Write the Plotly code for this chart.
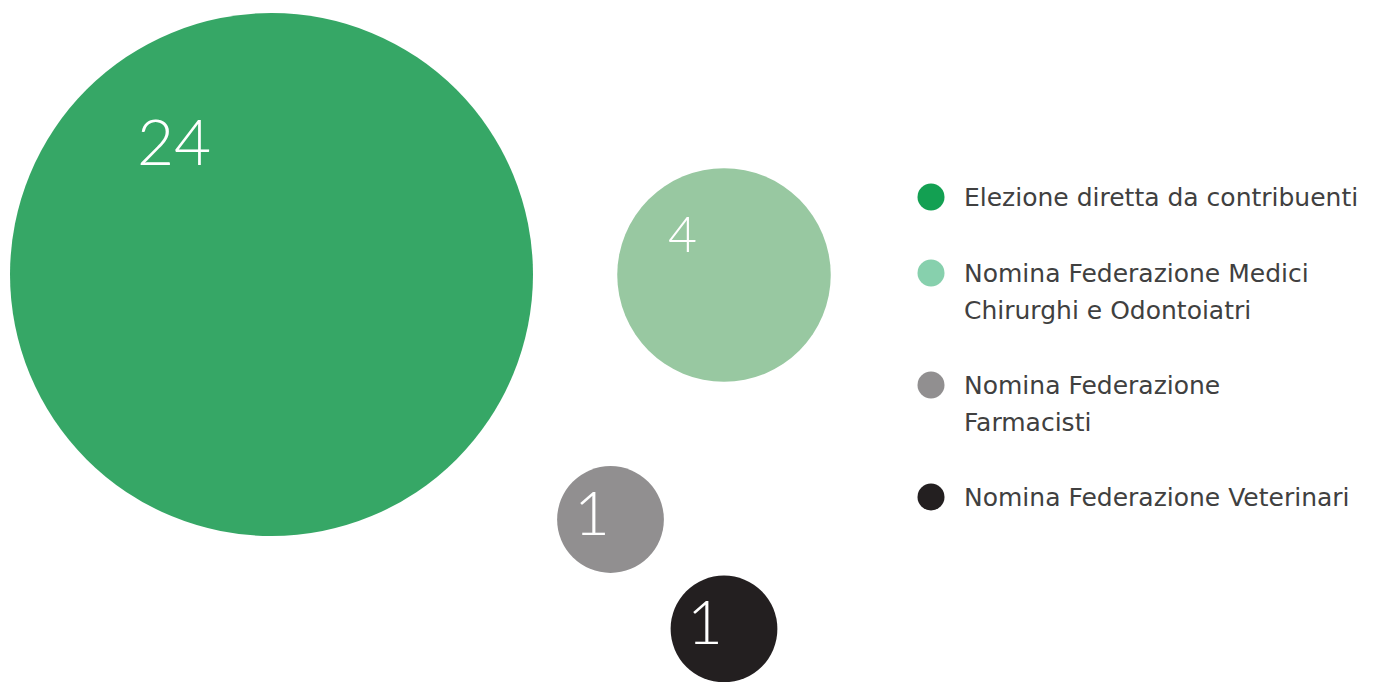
"""Bubble chart: composition of the board by appointment type."""

import plotly.graph_objects as go

# data
categories = [
    "Elezione diretta da contribuenti",
    "Nomina Federazione Medici<br>Chirurghi e Odontoiatri",
    "Nomina Federazione<br>Farmacisti",
    "Nomina Federazione Veterinari",
]
values = [24, 4, 1, 1]
value_labels = ["24", "4", "1", "1"]

# layout of the packed bubbles (pixel space, y downwards)
bubble_x = [271.5, 724, 610.5, 724]
bubble_y = [274.5, 275, 519.5, 629]
label_x = [174, 682, 592, 705]
label_y = [140, 233, 511, 620]
label_sizes = [64, 50, 62, 62]

bubble_colors = ["#36a766", "#98c8a1", "#918f90", "#231f20"]
legend_colors = ["#13a052", "#87d0ad", "#918f90", "#231f20"]

W, H = 1383, 682
OFF = 8  # page body margin
MAX_DIAM = 523

fig = go.Figure()

fig.add_trace(
    go.Scatter(
        x=bubble_x,
        y=bubble_y,
        mode="markers",
        marker=dict(
            size=values,
            sizemode="area",
            sizeref=2.0 * max(values) / MAX_DIAM ** 2,
            color=bubble_colors,
            line=dict(width=0),
            opacity=1,
        ),
        hovertext=[c.replace("<br>", " ") for c in categories],
        hoverinfo="text",
        showlegend=False,
    )
)

# numbers inside the bubbles
for lx, ly, txt, fs in zip(label_x, label_y, value_labels, label_sizes):
    fig.add_annotation(
        x=lx, y=ly, text=txt, showarrow=False,
        xanchor="center", yanchor="middle",
        font=dict(family="Lato", size=fs, color="white", weight=300),
    )

# custom legend
legend_x = 931
legend_y = [197, 273, 385, 497]
line_gap = 37

fig.add_trace(
    go.Scatter(
        x=[legend_x] * len(categories),
        y=legend_y,
        mode="markers",
        marker=dict(size=27, color=legend_colors, line=dict(width=0)),
        hoverinfo="skip",
        showlegend=False,
    )
)

for ly, cat in zip(legend_y, categories):
    for k, line in enumerate(cat.split("<br>")):
        fig.add_annotation(
            x=962, y=ly + k * line_gap, text=line, showarrow=False,
            xanchor="left", yanchor="middle",
            font=dict(family="DejaVu Sans", size=25, color="#404040"),
        )

fig.update_layout(
    width=W,
    height=H,
    margin=dict(l=0, r=0, t=0, b=0),
    paper_bgcolor="white",
    plot_bgcolor="white",
    xaxis=dict(range=[OFF, W + OFF], visible=False, fixedrange=True),
    yaxis=dict(range=[H + OFF, OFF], visible=False, fixedrange=True),
    showlegend=False,
)

fig.write_html("out.html")
